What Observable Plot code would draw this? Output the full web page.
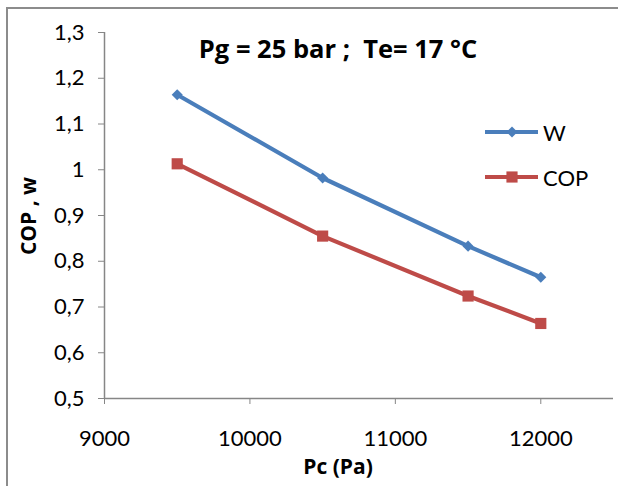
<!DOCTYPE html>
<html><head><meta charset="utf-8">
<script src="https://cdn.jsdelivr.net/npm/d3@7"></script>
<script src="https://cdn.jsdelivr.net/npm/@observablehq/plot@0.6"></script>
<style>
html,body{margin:0;padding:0;background:#fff;}
#wrap{position:relative;width:618px;height:486px;overflow:hidden;font-family:Lato,sans-serif;color:#000;}
#wrap svg.plot{position:absolute;left:0;top:0;}
#frame{position:absolute;left:6px;top:7px;width:700px;height:600px;border-left:2px solid #8c8c8c;border-top:2px solid #8c8c8c;}
.ov{position:absolute;white-space:pre;}
#title{left:338px;top:48px;transform:translate(-50%,-50%);font-family:"Open Sans",sans-serif;font-weight:700;font-size:25.5px;}
#xlab{left:338px;top:466px;transform:translate(-50%,-50%);font-family:"Open Sans",sans-serif;font-weight:700;font-size:21px;}
#ylab{left:28px;top:216px;transform:translate(-50%,-50%) rotate(-90deg);font-family:"Open Sans",sans-serif;font-weight:700;font-size:21px;}
.leg{position:absolute;left:483px;height:24px;display:flex;align-items:center;font-size:22px;}
.leg svg{display:block;margin-right:4px;}
</style></head><body><div id="wrap"><div id="frame"></div></div>
<script>
const pc = [9500, 10500, 11500, 12000];
const wValues = [1.164, 0.982, 0.833, 0.765];
const copValues = [1.013, 0.855, 0.724, 0.664];
const seriesNames = ["W", "COP"];
const seriesColors = ["#4A7EBB", "#BE4B48"];
const seriesSymbols = ["diamond2", "square"];
const xTicks = [9000, 10000, 11000, 12000];
const xTickLabels = ["9000", "10000", "11000", "12000"];
const yTicks = [0.5, 0.6, 0.7, 0.8, 0.9, 1, 1.1, 1.2, 1.3];
const yTickLabels = ["0,5", "0,6", "0,7", "0,8", "0,9", "1", "1,1", "1,2", "1,3"];
const titleText = "Pg = 25 bar ;  Te= 17 °C";
const xLabel = "Pc (Pa)";
const yLabel = "COP , w";

const seriesValues = [wValues, copValues];
const rows = [];
seriesNames.forEach((s, k) => pc.forEach((x, i) => rows.push({series: s, pc: x, v: seriesValues[k][i]})));

const markerR = [5, 6.3];
const axisColor = "#868686";
const chart = Plot.plot({
  width: 618, height: 486,
  marginLeft: 104, marginRight: 5, marginTop: 32, marginBottom: 88,
  style: {fontFamily: "Lato, sans-serif", background: "transparent"},
  x: {domain: [9000, 12500]},
  y: {domain: [0.5, 1.3]},
  marks: [
    Plot.axisY({ticks: yTicks, tickFormat: d => yTickLabels[yTicks.indexOf(d)], tickSize: 6, tickPadding: 14, fontSize: 22, stroke: axisColor, fill: "#000", label: null}),
    Plot.axisX({ticks: xTicks, tickFormat: d => xTickLabels[xTicks.indexOf(d)], tickSize: 6, tickPadding: 26, fontSize: 22, stroke: axisColor, fill: "#000", label: null}),
    Plot.ruleX([9000], {stroke: axisColor, strokeWidth: 1.5}),
    Plot.ruleY([0.5], {stroke: axisColor, strokeWidth: 1.5}),
    ...seriesNames.map((s, k) => Plot.line(rows.filter(r => r.series === s), {x: "pc", y: "v", stroke: seriesColors[k], strokeWidth: 4.2})),
    ...seriesNames.map((s, k) => Plot.dot(rows.filter(r => r.series === s), {x: "pc", y: "v", fill: seriesColors[k], symbol: seriesSymbols[k], r: markerR[k]}))
  ]
});
chart.classList.add("plot");
const wrap = document.getElementById("wrap");
wrap.appendChild(chart);

function addText(id, txt) { const d = document.createElement("div"); d.className = "ov"; d.id = id; d.textContent = txt; wrap.appendChild(d); }
addText("title", titleText);
addText("xlab", xLabel);
addText("ylab", yLabel);

const legTops = [120, 165];
seriesNames.forEach((s, k) => {
  const d = document.createElement("div");
  d.className = "leg";
  d.style.top = legTops[k] + "px";
  const svg = d3.create("svg").attr("width", 56).attr("height", 24);
  svg.append("line").attr("x1", 2).attr("x2", 55).attr("y1", 12).attr("y2", 12).attr("stroke", seriesColors[k]).attr("stroke-width", 4.2);
  const sym = k === 0 ? d3.symbolDiamond2 : d3.symbolSquare;
  const size = markerR[k] * markerR[k] * Math.PI;
  svg.append("path").attr("transform", "translate(29,12)").attr("d", d3.symbol(sym, size)()).attr("fill", seriesColors[k]);
  d.appendChild(svg.node());
  const t = document.createElement("span"); t.textContent = s; d.appendChild(t);
  wrap.appendChild(d);
});
</script>
</body></html>
